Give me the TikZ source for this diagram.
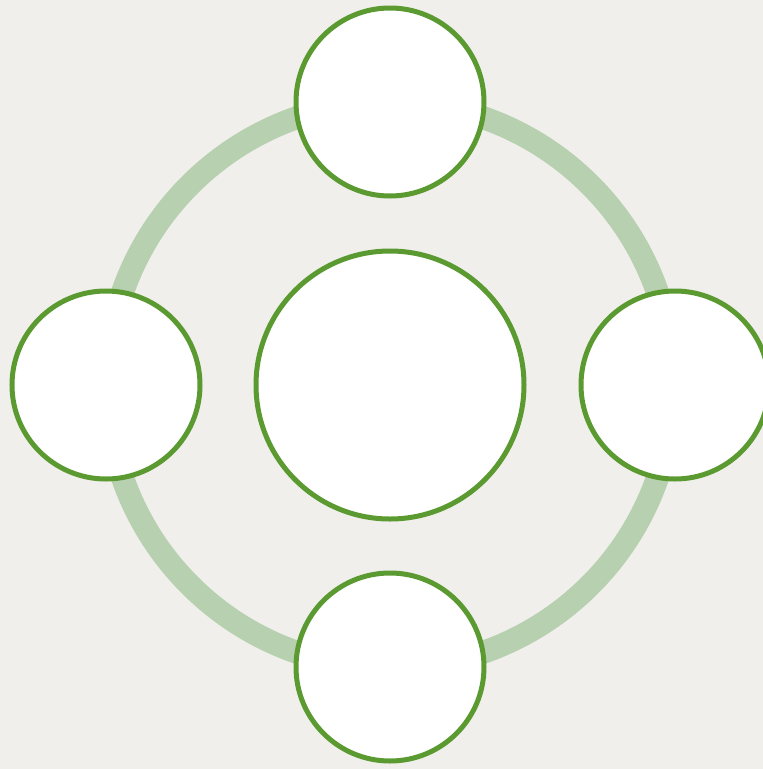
\documentclass[tikz,border=0pt]{standalone}
\definecolor{bgc}{HTML}{F1EFEC}
\definecolor{ringc}{HTML}{B7D1B0}
\definecolor{edgec}{HTML}{5A9A30}
\begin{document}
\begin{tikzpicture}[x=1pt,y=-1pt,
  sat/.style={circle,draw=edgec,line width=5pt,fill=white,minimum size=188pt,inner sep=0pt},
  hub/.style={circle,draw=edgec,line width=5pt,fill=white,minimum size=268pt,inner sep=0pt}]
\fill[bgc] (0,0) rectangle (763,769);
\useasboundingbox (0,0) rectangle (763,769);
\begin{scope}
\clip (0,0) rectangle (763,769);
\draw[ringc,line width=23pt] (390,385) circle[radius=283];
\node[hub] (c) at (390,385) {};
\node[sat] (t) at (390,102) {};
\node[sat] (l) at (106,385) {};
\node[sat] (r) at (675,385) {};
\node[sat] (b) at (390,667) {};
\end{scope}
\end{tikzpicture}
\end{document}
